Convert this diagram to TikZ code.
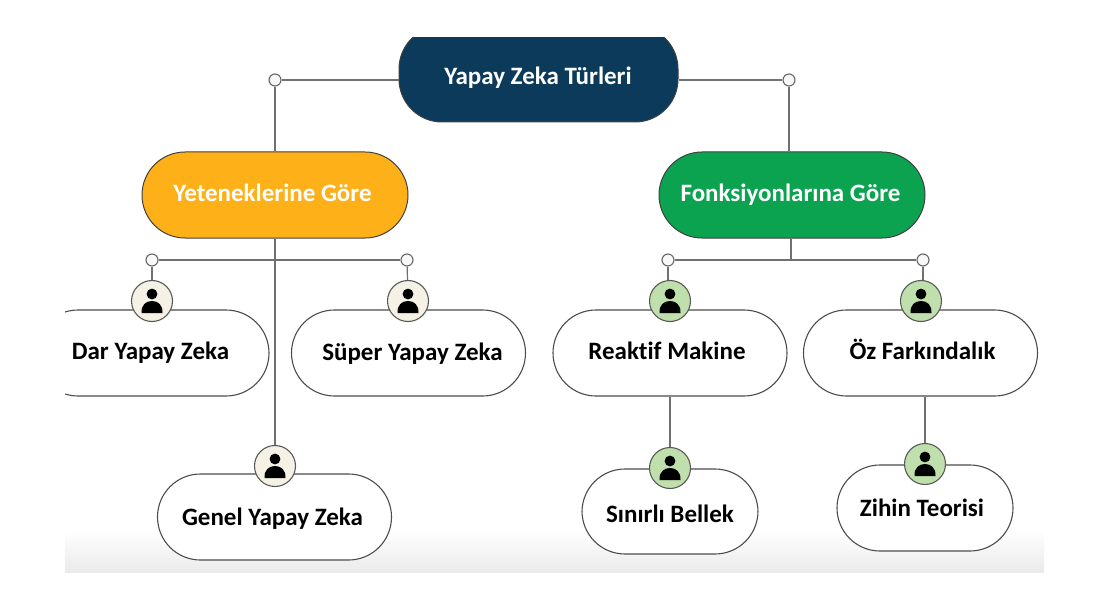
\documentclass[tikz,border=0pt]{standalone}
\usepackage{fontspec}
\setmainfont[Ligatures=NoCommon]{Carlito}
\usetikzlibrary{calc}
\definecolor{navy}{HTML}{0B3A5B}
\definecolor{amber}{HTML}{FDB017}
\definecolor{leaf}{HTML}{0BA350}
\definecolor{cream}{HTML}{F5F1E4}
\definecolor{mint}{HTML}{BFE0AC}
\definecolor{wire}{HTML}{707070}
\tikzset{
  x=1pt,y=-1pt,
  headbox/.style={draw=black!75,line width=1pt,rounded corners=43pt,fill=#1,minimum width=266pt,minimum height=86pt,inner sep=0pt},
  leafbox/.style={draw=black!70,line width=1.1pt,rounded corners=43pt,fill=white,minimum width=234pt,minimum height=86pt,inner sep=0pt},
  smallbox/.style={leafbox,minimum width=176pt},
  label/.style={anchor=base,inner sep=0pt,text=black,font=\fontsize{25}{28}\selectfont\bfseries},
  wlabel/.style={label,text=white},
  dot/.style={circle,draw=black!60,fill=black!3,line width=1.1pt,minimum size=12pt,inner sep=0pt},
  badge/.style={circle,draw=black!65,fill=#1,line width=1.1pt,minimum size=41pt,inner sep=0pt},
  wireline/.style={draw=wire,line width=1.2pt},
}
\newcommand{\personicon}[1]{%
  \fill[black] ($(#1)+(0,-7)$) circle (5.4);
  \fill[black] ($(#1)+(-10.5,12)$) .. controls ($(#1)+(-11,4)$) and ($(#1)+(-6,0)$) .. ($(#1)+(0,0)$) .. controls ($(#1)+(6,0)$) and ($(#1)+(11,4)$) .. ($(#1)+(10.5,12)$) -- cycle;
}
\begin{document}
\begin{tikzpicture}
\useasboundingbox (0,0) rectangle (1096,591);
\fill[white] (0,0) rectangle (1096,591);
\shade[top color=white,bottom color=black!8] (65,530) rectangle (1044,572);

\node[dot] (jl) at (275,80) {};
\node[dot] (jr) at (789,80) {};
\node[dot] (ja) at (152,260) {};
\node[dot] (jb) at (407,260) {};
\node[dot] (jc) at (668,260) {};
\node[dot] (jd) at (923,260) {};
\coordinate (sb) at (791,260);

\begin{scope}
\clip (65,38) rectangle (1044,140);
\node[headbox=navy,minimum width=279pt,minimum height=96pt] (root) at (538.5,74) {};
\end{scope}
\node[wlabel] (roott) at (538,85) {Yapay Zeka Türleri};

\node[headbox=amber] (yet) at (275,195) {};
\node[wlabel] (yett) at (272.5,201) {Yeteneklerine Göre};
\node[headbox=leaf] (fon) at (792,195) {};
\node[wlabel] (font) at (790.5,201) {Fonksiyonlarına Göre};

\begin{scope}
\clip (65,300) rectangle (300,400);
\node[leafbox] (dar) at (152,353) {};
\end{scope}
\node[label] (dart) at (150.5,359) {Dar Yapay Zeka};
\node[leafbox] (sup) at (408.5,353) {};
\node[label] (supt) at (412.5,360) {Süper Yapay Zeka};
\node[leafbox] (gen) at (274.5,517) {};
\node[label] (gent) at (272.5,525) {Genel Yapay Zeka};
\node[leafbox] (rea) at (670,353) {};
\node[label] (reat) at (667,359) {Reaktif Makine};
\node[leafbox] (oz) at (920.5,353) {};
\node[label] (ozt) at (922.5,359) {Öz Farkındalık};
\node[smallbox,minimum height=85pt] (sin) at (670,511.5) {};
\node[label] (sint) at (670,522) {Sınırlı Bellek};
\node[smallbox] (zih) at (925,508) {};
\node[label] (zihh) at (922,516) {Zihin Teorisi};

\node[badge=cream] (ba) at (152,301) {};
\node[badge=cream] (bb) at (408,301) {};
\node[badge=cream] (bc) at (275,466) {};
\node[badge=mint] (bd) at (670,301) {};
\node[badge=mint] (be) at (921,301) {};
\node[badge=mint] (bf) at (670,468) {};
\node[badge=mint] (bg) at (925,464) {};
\personicon{ba}\personicon{bb}\personicon{bc}\personicon{bd}\personicon{be}\personicon{bf}\personicon{bg}

\draw[wireline] (root.west |- jl) -- (jl);
\draw[wireline] (root.east |- jr) -- (jr);
\draw[wireline] (jl) -- (jl |- yet.north);
\draw[wireline] (jr) -- (jr |- fon.north);
\draw[wireline] (yet.south) -- (bc);
\draw[wireline] (ja) -- (jb);
\draw[wireline] (jc) -- (jd);
\draw[wireline] (sb |- fon.south) -- (sb);
\draw[wireline] (ja) -- (ba);
\draw[wireline] (jb) -- (bb);
\draw[wireline] (jc) -- (jc |- bd.north);
\draw[wireline] (jd) -- (jd |- be.north);
\draw[wireline] (rea.south) -- (bf);
\draw[wireline] (bg |- oz.south) -- (bg);
\end{tikzpicture}
\end{document}
